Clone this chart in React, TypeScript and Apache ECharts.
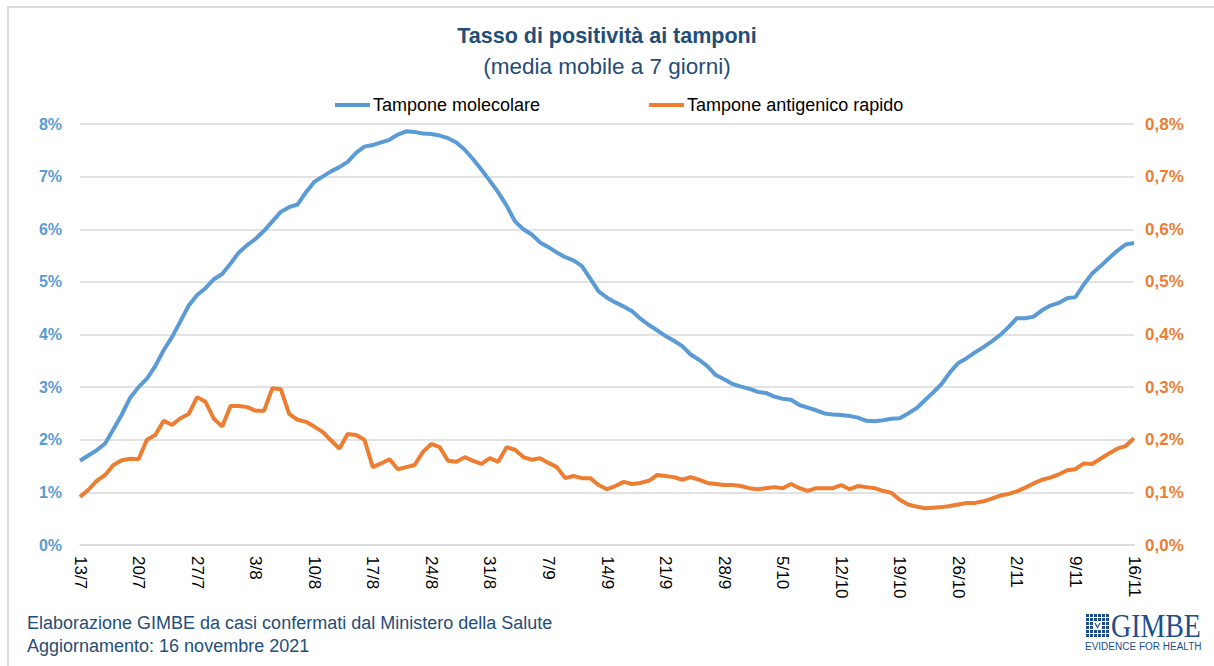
import React, { useEffect, useRef } from "react";
import * as echarts from "echarts";

const dates: string[] = (() => {
  const out: string[] = [];
  const monthDays = [31, 28, 31, 30, 31, 30, 31, 31, 30, 31, 30, 31];
  let d = 13, m = 7;
  for (let i = 0; i < 127; i++) {
    out.push(`${d}/${m}`);
    d++;
    if (d > monthDays[m - 1]) { d = 1; m++; }
  }
  return out;
})();

const molecolare: number[] = [
  1.60, 1.70, 1.80, 1.93, 2.20, 2.48, 2.80, 3.00, 3.16, 3.40,
  3.70, 3.95, 4.25, 4.55, 4.75, 4.88, 5.05, 5.15, 5.35, 5.56,
  5.70, 5.82, 5.97, 6.15, 6.33, 6.42, 6.47, 6.70, 6.90, 7.00,
  7.10, 7.18, 7.28, 7.45, 7.57, 7.60, 7.65, 7.70, 7.80, 7.86,
  7.85, 7.82, 7.81, 7.78, 7.73, 7.65, 7.51, 7.33, 7.13, 6.92,
  6.70, 6.45, 6.15, 6.00, 5.90, 5.75, 5.66, 5.56, 5.47, 5.41,
  5.30, 5.06, 4.82, 4.70, 4.61, 4.53, 4.44, 4.30, 4.18, 4.08,
  3.97, 3.88, 3.78, 3.62, 3.52, 3.40, 3.23, 3.15, 3.06, 3.01,
  2.97, 2.91, 2.89, 2.82, 2.78, 2.76, 2.66, 2.61, 2.56, 2.50,
  2.48, 2.47, 2.45, 2.42, 2.36, 2.35, 2.37, 2.40, 2.41, 2.50,
  2.60, 2.75, 2.90, 3.06, 3.28, 3.46, 3.55, 3.66, 3.76, 3.87,
  3.99, 4.14, 4.31, 4.31, 4.34, 4.46, 4.55, 4.60, 4.69, 4.71,
  4.95, 5.16, 5.30, 5.45, 5.59, 5.71, 5.74,
];

const antigenico: number[] = [
  0.091, 0.105, 0.122, 0.133, 0.152, 0.161, 0.164, 0.163, 0.200, 0.209,
  0.236, 0.228, 0.241, 0.249, 0.281, 0.272, 0.240, 0.225, 0.264, 0.264,
  0.262, 0.255, 0.255, 0.298, 0.296, 0.249, 0.238, 0.234, 0.225, 0.215,
  0.199, 0.183, 0.211, 0.209, 0.200, 0.148, 0.155, 0.163, 0.144, 0.148,
  0.152, 0.177, 0.192, 0.186, 0.160, 0.158, 0.167, 0.160, 0.154, 0.165,
  0.158, 0.186, 0.181, 0.167, 0.162, 0.165, 0.156, 0.148, 0.127, 0.131,
  0.127, 0.127, 0.114, 0.106, 0.112, 0.120, 0.116, 0.118, 0.122, 0.133,
  0.131, 0.129, 0.124, 0.129, 0.124, 0.118, 0.116, 0.114, 0.114, 0.112,
  0.108, 0.106, 0.108, 0.110, 0.108, 0.116, 0.108, 0.103, 0.108, 0.108,
  0.108, 0.114, 0.106, 0.112, 0.110, 0.108, 0.103, 0.099, 0.086, 0.077,
  0.073, 0.070, 0.071, 0.072, 0.074, 0.077, 0.080, 0.080, 0.083, 0.088,
  0.094, 0.097, 0.102, 0.109, 0.117, 0.124, 0.128, 0.134, 0.142, 0.144,
  0.155, 0.154, 0.164, 0.174, 0.183, 0.188, 0.203,
];

const seriesNames = ["Tampone molecolare", "Tampone antigenico rapido"];
const titleText = "Tasso di positività ai tamponi";
const subtitleText = "(media mobile a 7 giorni)";
const footer1 = "Elaborazione GIMBE da casi confermati dal Ministero della Salute";
const footer2 = "Aggiornamento: 16 novembre 2021";

const BLUE = "#5b9bd5";
const ORANGE = "#ed7d31";
const NAVY = "#1f4e79";
const FONT = "'Liberation Sans', Arial, sans-serif";

export default function App() {
  const ref = useRef<HTMLDivElement>(null);
  useEffect(() => {
    if (!ref.current) return;
    const chart = echarts.init(ref.current, undefined, { renderer: "svg" });

    const logoSquares: any[] = [];
    for (let r = 0; r < 6; r++) {
      for (let c = 0; c < 6; c++) {
        logoSquares.push({
          type: "rect",
          shape: { x: 1086 + c * 4, y: 614 + r * 4, width: 3, height: 3 },
          style: { fill: "#1f4e8c" },
        });
      }
    }

    chart.setOption({
      animation: false,
      backgroundColor: "#ffffff",
      textStyle: { fontFamily: FONT },
      legend: {
        left: 330,
        top: 91,
        icon: "rect",
        itemWidth: 35,
        itemHeight: 4,
        itemGap: 109,
        data: seriesNames,
        textStyle: { fontSize: 18, color: "#000", fontFamily: FONT, padding: [0, 0, 0, -2] },
      },
      grid: {
        left: 80,
        right: 80,
        top: 124,
        bottom: 121,
        containLabel: false,
        outerBoundsMode: "none",
      },
      xAxis: {
        type: "category",
        boundaryGap: false,
        data: dates,
        axisLine: { show: true, lineStyle: { color: "#d9d9d9", width: 1.5 } },
        axisTick: { show: false },
        axisLabel: {
          interval: 6,
          rotate: -90,
          color: "#000",
          fontSize: 17,
          margin: 11,
          fontFamily: FONT,
        },
        splitLine: { show: false },
      },
      yAxis: [
        {
          type: "value",
          min: 0,
          max: 8,
          interval: 1,
          position: "left",
          axisLine: { show: false },
          axisTick: { show: false },
          axisLabel: {
            formatter: "{value}%",
            color: BLUE,
            fontSize: 16,
            fontWeight: "bold",
            margin: 18,
            fontFamily: FONT,
          },
          splitLine: { lineStyle: { color: "#d9d9d9", width: 1.5 } },
        },
        {
          type: "value",
          min: 0,
          max: 0.8,
          interval: 0.1,
          position: "right",
          axisLine: { show: false },
          axisTick: { show: false },
          axisLabel: {
            formatter: (v: number) => v.toFixed(1).replace(".", ",") + "%",
            color: ORANGE,
            fontSize: 17,
            fontWeight: "bold",
            margin: 11,
            fontFamily: FONT,
          },
          splitLine: { show: false },
        },
      ],
      series: [
        {
          name: seriesNames[0],
          type: "line",
          yAxisIndex: 0,
          data: molecolare,
          showSymbol: false,
          symbol: "none",
          lineStyle: { color: BLUE, width: 4 },
          itemStyle: { color: BLUE },
        },
        {
          name: seriesNames[1],
          type: "line",
          yAxisIndex: 1,
          data: antigenico,
          showSymbol: false,
          symbol: "none",
          lineStyle: { color: ORANGE, width: 4 },
          itemStyle: { color: ORANGE },
        },
      ],
      graphic: [
        {
          type: "rect",
          shape: { x: 8, y: 7, width: 1220, height: 680 },
          style: { fill: "none", stroke: "#d9d9d9", lineWidth: 2 },
          silent: true,
        },
        {
          type: "text",
          left: "center",
          top: 25,
          style: { text: titleText, fill: NAVY, font: `bold 21.5px ${FONT}` },
        },
        {
          type: "text",
          left: "center",
          top: 55,
          style: { text: subtitleText, fill: NAVY, font: `22.5px ${FONT}` },
        },
        {
          type: "text",
          left: 27,
          top: 614,
          style: { text: footer1, fill: NAVY, font: `18px ${FONT}` },
        },
        {
          type: "text",
          left: 27,
          top: 637,
          style: { text: footer2, fill: NAVY, font: `18px ${FONT}` },
        },
        ...logoSquares,
        {
          type: "rect",
          shape: { x: 1094, y: 622, width: 7, height: 7 },
          style: { fill: "#ffffff" },
        },
        {
          type: "polyline",
          shape: { points: [[1095, 623], [1097.5, 627.5], [1100, 623]] },
          style: { stroke: "#1f4e8c", lineWidth: 1.2, fill: "none" },
        },
        {
          type: "text",
          x: 1111,
          y: 609,
          scaleX: 0.82,
          style: { text: "GIMBE", fill: "#1f4e8c", font: `34px 'Liberation Serif', 'DejaVu Serif', serif` },
        },
        {
          type: "text",
          x: 1085,
          y: 641,
          style: { text: "EVIDENCE FOR HEALTH", fill: "#1f4e8c", font: `10px ${FONT}` },
        },
      ],
    });
    return () => chart.dispose();
  }, []);
  return (
    <div
      ref={ref}
      style={{ position: "fixed", left: 0, top: 0, width: 1214, height: 666 }}
    />
  );
}
